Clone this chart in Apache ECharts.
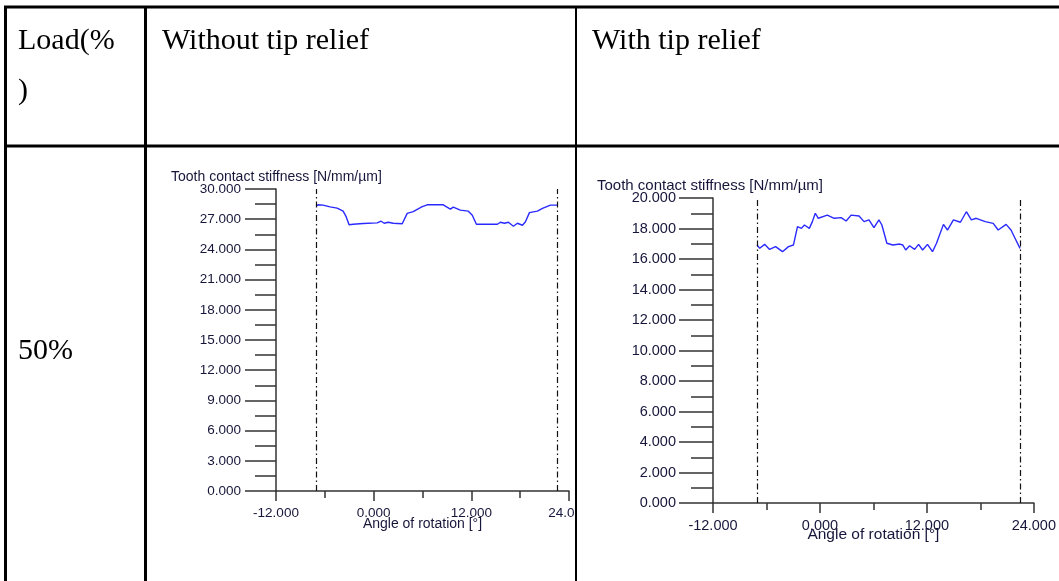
<!DOCTYPE html>
<html>
<head>
<meta charset="utf-8">
<script src="https://cdn.jsdelivr.net/npm/echarts@6/dist/echarts.min.js"></script>
<style>
  html, body { margin: 0; padding: 0; background: #fff; }
  #c { width: 1059px; height: 581px; }
</style>
</head>
<body>
<div id="c"></div>
<script>
// Table text
const headerLoad = ['Load(%', ')'];
const headerCols = ['Without tip relief', 'With tip relief'];
const rowLabel = '50%';

// Axis titles and ticks
const yTitle = 'Tooth contact stiffness [N/mm/\u00b5m]';
const xTitle = 'Angle of rotation [\u00b0]';
const xTicks = [-12, 0, 12, 24];
const yTicksNoRelief = [0, 3, 6, 9, 12, 15, 18, 21, 24, 27, 30];
const yTicksRelief = [0, 2, 4, 6, 8, 10, 12, 14, 16, 18, 20];

// Without tip relief: angle [deg] / stiffness [N/mm/um]
const angleNoRelief = [-7.08, -6.83, -6.22, -5.35, -4.49, -3.75, -3.38, -3.02, -2.52, -1.29, 0.43, 0.92, 1.29, 1.78, 2.40, 3.51, 4.12, 4.86, 5.35, 5.97, 6.58, 7.94, 8.55, 9.42, 9.78, 10.65, 11.63, 12.12, 12.62, 15.20, 15.57, 16.06, 16.55, 17.17, 17.66, 18.28, 18.65, 19.14, 20.12, 20.74, 21.72, 22.58];
const stiffNoRelief = [28.30, 28.43, 28.40, 28.23, 28.10, 27.80, 27.25, 26.45, 26.50, 26.57, 26.63, 26.80, 26.60, 26.70, 26.60, 26.55, 27.58, 27.75, 27.98, 28.24, 28.43, 28.43, 28.43, 28.00, 28.20, 27.90, 27.80, 27.40, 26.50, 26.50, 26.70, 26.60, 26.70, 26.30, 26.60, 26.40, 26.75, 27.65, 27.80, 28.07, 28.40, 28.40];

// With tip relief
const angleRelief = [-7.06, -6.76, -6.20, -5.65, -4.98, -4.20, -3.53, -2.97, -2.52, -2.08, -1.74, -1.19, -0.85, -0.52, -0.18, 0.82, 1.60, 2.38, 2.94, 3.50, 4.39, 4.95, 5.50, 6.06, 6.62, 6.95, 7.51, 8.18, 8.96, 9.29, 9.62, 10.06, 10.62, 11.07, 11.52, 12.07, 12.63, 13.08, 13.86, 14.31, 14.98, 15.76, 16.43, 16.99, 17.54, 18.55, 19.44, 20.00, 20.89, 21.44, 21.89, 22.45];
const stiffRelief = [16.92, 16.70, 16.96, 16.63, 16.81, 16.48, 16.81, 16.92, 18.12, 18.01, 18.23, 18.01, 18.45, 19.00, 18.67, 18.88, 18.67, 18.71, 18.49, 18.88, 18.82, 18.45, 18.56, 18.05, 18.56, 18.23, 17.03, 16.92, 16.98, 16.92, 16.59, 16.87, 16.63, 16.96, 16.59, 16.96, 16.48, 17.03, 18.27, 17.90, 18.56, 18.41, 19.10, 18.56, 18.67, 18.45, 18.34, 17.90, 18.27, 17.90, 17.36, 16.70];

// Mesh period boundaries (dash-dot markers)
const meshNoRelief = [-7.08, 22.58];
const meshRelief = [-7.06, 22.45];

const pairs = (xs, ys) => xs.map((x, i) => [x, ys[i]]);
const fmt = v => v.toFixed(3);
const labelColor = '#16163a';
const axisColor = '#333';
const sansFont = 'Liberation Sans';

function xAxisFor(gi, fontSize, nameSize, margin, nameGap) {
  return {
    type: 'value', gridIndex: gi,
    min: xTicks[0], max: xTicks[xTicks.length - 1], interval: xTicks[1] - xTicks[0],
    name: xTitle, nameLocation: 'middle', nameGap: nameGap, nameMoveOverlap: false,
    nameTextStyle: { color: labelColor, fontFamily: sansFont, fontSize: nameSize },
    axisLine: { onZero: false, lineStyle: { color: axisColor, width: 1.5 } },
    axisTick: { show: true, length: 10, lineStyle: { color: axisColor, width: 1.5 } },
    minorTick: { show: true, splitNumber: 2, length: 7, lineStyle: { color: axisColor, width: 1.5 } },
    axisLabel: { formatter: fmt, color: labelColor, fontFamily: sansFont, fontSize: fontSize, margin: margin, showMaxLabel: true, showMinLabel: true },
    splitLine: { show: false }
  };
}
function yAxisFor(gi, ticks, fontSize, tickLen, minorLen, margin) {
  return {
    type: 'value', gridIndex: gi,
    min: ticks[0], max: ticks[ticks.length - 1], interval: ticks[1] - ticks[0],
    axisLine: { show: true, onZero: false, lineStyle: { color: axisColor, width: 1.5 } },
    axisTick: { show: true, length: tickLen, lineStyle: { color: axisColor, width: 1.5 } },
    minorTick: { show: true, splitNumber: 2, length: minorLen, lineStyle: { color: axisColor, width: 1.5 } },
    axisLabel: { formatter: fmt, color: labelColor, fontFamily: sansFont, fontSize: fontSize, margin: margin },
    splitLine: { show: false }
  };
}
function curve(gi, xs, ys, mesh) {
  return {
    type: 'line', xAxisIndex: gi, yAxisIndex: gi,
    data: pairs(xs, ys), showSymbol: false, animation: false,
    lineStyle: { color: '#2a2aff', width: 1.4 },
    markLine: {
      silent: true, symbol: 'none', label: { show: false },
      lineStyle: { color: '#111', width: 1.2, type: [6, 3, 1.5, 3] },
      data: mesh.map(v => ({ xAxis: v }))
    }
  };
}

const serif = '30px "Liberation Serif"';
const line = (x1, y1, x2, y2, w) => ({ type: 'line', z: 101, shape: { x1, y1, x2, y2 }, style: { stroke: '#000', lineWidth: w }, silent: true });
const txt = (x, y, text, font, fill) => ({ type: 'text', z: 101, x, y, style: { text, font, fill: fill || '#000', verticalAlign: 'middle', align: 'left' }, silent: true });

const chart = echarts.init(document.getElementById('c'), null, { renderer: 'canvas' });
chart.setOption({
  animation: false,
  backgroundColor: '#fff',
  grid: [
    { left: 276, top: 189, width: 293, height: 302 },
    { left: 713, top: 198, width: 323, height: 305 }
  ],
  xAxis: [xAxisFor(0, 13.5, 14, 15, 26), xAxisFor(1, 14.5, 15.5, 15, 24)],
  yAxis: [
    yAxisFor(0, yTicksNoRelief, 13.5, 31, 21, 35),
    yAxisFor(1, yTicksRelief, 14.5, 34, 22, 37)
  ],
  series: [
    curve(0, angleNoRelief, stiffNoRelief, meshNoRelief),
    curve(1, angleRelief, stiffRelief, meshRelief)
  ],
  graphic: [
    // cell clipping: the left cell hides whatever spills past its border
    { type: 'rect', z: 100, shape: { x: 574, y: 495, width: 20, height: 40 }, style: { fill: '#fff' }, silent: true },
    line(4, 7, 1059, 7, 3),
    line(5.5, 6, 5.5, 581, 3),
    line(145.5, 6, 145.5, 581, 3),
    line(576, 6, 576, 581, 2),
    line(4, 146, 1059, 146, 3),
    txt(18, 41, headerLoad[0], serif),
    txt(18, 91, headerLoad[1], serif),
    txt(162, 41, headerCols[0], serif),
    txt(592, 41, headerCols[1], serif),
    txt(18, 351, rowLabel, serif),
    txt(171, 177, yTitle, '14px "Liberation Sans"', labelColor),
    txt(597, 186, yTitle, '15px "Liberation Sans"', labelColor)
  ]
});
</script>
</body>
</html>
